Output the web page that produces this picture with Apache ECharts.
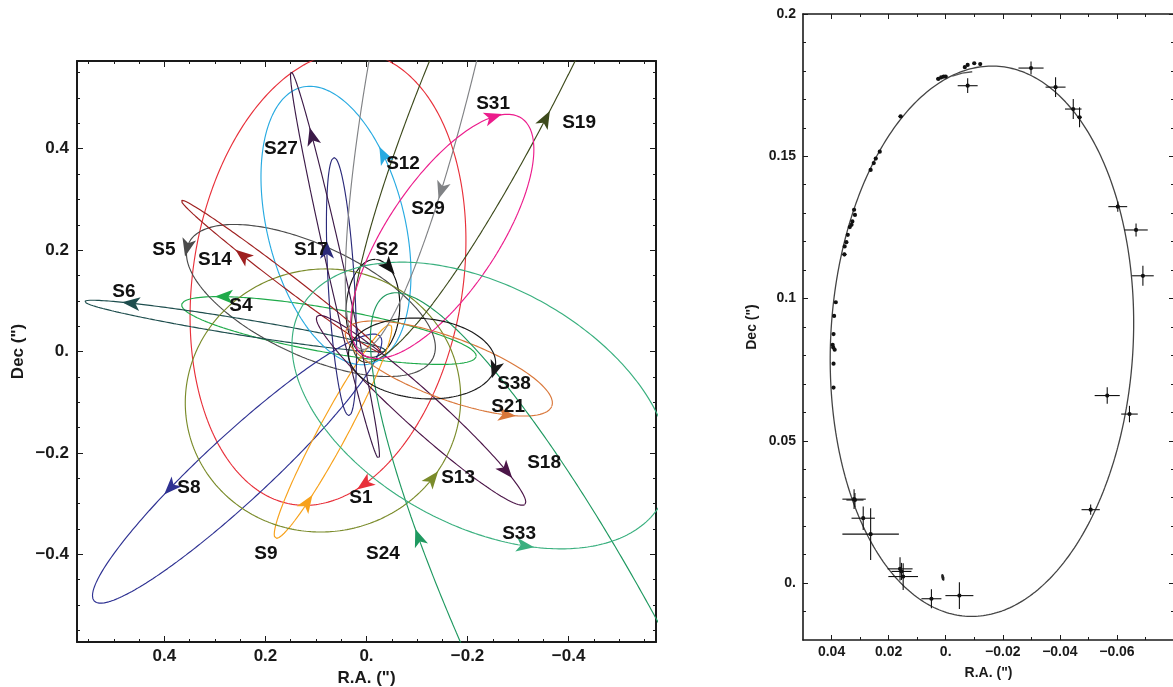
<!DOCTYPE html>
<html><head><meta charset="utf-8">
<script src="https://cdn.jsdelivr.net/npm/echarts@6/dist/echarts.min.js"></script>
<style>html,body{margin:0;padding:0;background:#fff}#c{width:1173px;height:687px}</style>
</head><body><div id="c"></div>
<script>
// ---------------- DATA (left panel: projected S-star orbits, arcsec) ----------------
const stars     = ['S1','S2','S4','S5','S6','S8','S9','S12','S13','S14','S17','S18','S19','S21','S24','S27','S29','S31','S33','S38'];
// ellipse centre (R.A., Dec), semi-axes and tilt of the major axis (deg, on the sky picture)
const orbitRA   = [0.0762,-0.0127,0.0743,0.110,0.260,0.256,0.0663,0.0604,0.0861,0.169,0.0495,-0.108,-0.341,-0.163,-0.470,0.0624,-0.146,-0.150,-0.227,-0.110];
const orbitDec  = [0.144,0.085,0.0414,0.1006,0.0503,-0.231,-0.158,0.2485,-0.0966,0.148,0.128,-0.116,0.733,-0.0335,-0.734,0.170,0.739,0.227,-0.1065,-0.0138];
const orbitA    = [0.451,0.0968,0.296,0.267,0.302,0.385,0.239,0.281,0.273,0.248,0.255,0.277,0.830,0.217,0.949,0.391,0.751,0.281,0.405,0.146];
const orbitB    = [0.267,0.053,0.0435,0.109,0.016,0.065,0.028,0.136,0.259,0.014,0.026,0.036,0.134,0.061,0.188,0.016,0.107,0.109,0.237,0.079];
const orbitTilt = [81,87,-10,-25,-9.2,42.7,61.6,104,10,-37.2,93.3,-42,65,-20,-63,102.8,78,56,-28,-5];
// direction arrows: approximate position and heading (deg)
const arrowRA   = [0.0149,-0.0485,0.2822,0.3554,0.4663,0.3931,0.1139,-0.0228,-0.1287,0.2485,0.0663,-0.3069,-0.3594,-0.2762,-0.0842,0.1188,-0.1663,-0.2525,-0.3129,-0.2525];
const arrowDec  = [-0.2465,0.1696,0.1262,0.2051,0.0947,-0.2643,-0.2998,0.3826,-0.2485,0.1854,0.2012,-0.2110,0.4556,-0.1400,-0.3728,0.4221,0.3116,0.4596,-0.3925,-0.0355];
const arrowHead = [200,270,180,235,180,225,60,110,45,140,95,290,65,0,110,100,260,0,0,270];
// star name labels
const labelRA   = [0.0109,-0.0406,0.2485,0.401,0.480,0.3515,0.199,-0.0723,-0.1812,0.300,0.1099,-0.3515,-0.4208,-0.2802,-0.0327,0.1693,-0.1218,-0.2505,-0.302,-0.292];
const labelDec  = [-0.288,0.2012,0.0907,0.2012,0.1183,-0.2682,-0.3984,0.3708,-0.2485,0.1815,0.2012,-0.2189,0.4517,-0.1085,-0.3984,0.4004,0.2821,0.4892,-0.359,-0.0631];

// ---------------- DATA (right panel: S2 astrometry) ----------------
const obsRA    = [-0.0067,-0.0077,-0.0100,-0.0121,0.0026,0.0016,0.0007,0.0000,-0.0077,0.0158,0.0231,0.0245,0.0252,0.0263,0.0321,0.0318,0.0327,0.0330,0.0336,0.0343,0.0348,0.0354,0.0355,0.0385,0.0391,0.0393,0.0396,0.0394,0.0389,0.0393,0.0393,-0.0299,-0.0385,-0.0447,-0.0469,-0.0603,-0.0667,-0.0691,-0.0566,-0.0644,0.0321,0.0318,0.0289,0.0263,0.0160,0.0155,0.0149,0.0050,-0.0048,-0.0508];
const obsDec   = [0.1813,0.1821,0.1827,0.1824,0.1772,0.1777,0.1780,0.1780,0.1748,0.1640,0.1516,0.1492,0.1476,0.1452,0.1312,0.1294,0.1271,0.1259,0.1251,0.1224,0.1198,0.1183,0.1155,0.0987,0.0939,0.0875,0.0837,0.0828,0.0820,0.0771,0.0687,0.1810,0.1743,0.1666,0.1637,0.1323,0.1241,0.1080,0.0659,0.0594,0.0295,0.0292,0.0228,0.0172,0.0050,0.0041,0.0023,-0.0055,-0.0044,0.0258];
const obsErrRA = [0,0,0,0,0.0008,0,0,0,0.0035,0.0008,0,0,0,0,0,0,0,0,0,0,0,0,0.0008,0,0.0006,0,0,0,0,0.0005,0,0.0044,0.0035,0.0029,0.0008,0.0033,0.0041,0.0038,0.0044,0.0029,0.0041,0.0030,0.0041,0.0099,0.0044,0.0035,0.0052,0.0035,0.0049,0.0032];
const obsErrDec= [0,0,0,0,0,0,0,0,0.0026,0.0005,0,0,0,0,0,0,0,0,0,0,0,0,0.0006,0,0,0,0,0,0,0,0,0.0023,0.0035,0.0035,0.0035,0.0018,0.0023,0.0035,0.0029,0.0029,0.0035,0.0025,0.0041,0.0091,0.0041,0.0030,0.0047,0.0033,0.0047,0.0018];
const fit2RA   = [-0.0023,-0.0058,-0.0093];
const fit2Dec  = [0.1782,0.1792,0.1797];
const centreRA = [0.001];
const centreDec= [0.002];

// tick values and labels
const leftMajor = [-0.4,-0.2,0,0.2,0.4];
const leftMajorLabels = ['\u22120.4','\u22120.2','0.','0.2','0.4'];
const leftMinor = [-0.55,-0.5,-0.45,-0.35,-0.3,-0.25,-0.15,-0.1,-0.05,0.05,0.1,0.15,0.25,0.3,0.35,0.45,0.5,0.55];
const rxMajor = [-0.06,-0.04,-0.02,0,0.02,0.04];
const rxMajorLabels = ['\u22120.06','\u22120.04','\u22120.02','0.','0.02','0.04'];
const rxMinor = [-0.07,-0.05,-0.03,-0.01,0.01,0.03];
const ryMajor = [0,0.05,0.1,0.15,0.2];
const ryMajorLabels = ['0.','0.05','0.1','0.15','0.2'];
const ryMinor = [-0.01,0.01,0.02,0.03,0.04,0.06,0.07,0.08,0.09,0.11,0.12,0.13,0.14,0.16,0.17,0.18,0.19];

// ---------------- styles ----------------
const colors = {S1:'#e8303a',S2:'#111111',S4:'#1faa4a',S5:'#4a4a4a',S6:'#1d4d4d',S8:'#2e3192',S9:'#f7a11a',S12:'#27aae1',S13:'#7a8b2a',S14:'#9e1f1f',S17:'#2b2a7a',S18:'#4b1548',S19:'#3d4a1c',S21:'#d9773a',S24:'#1f9960',S27:'#3c1a48',S29:'#808285',S31:'#ec1c8c',S33:'#3ab07f',S38:'#1a1a1a'};
const FONT = '"Liberation Sans", Arial, Helvetica, sans-serif';
const INK = '#1a1a1a';

function orbit(i){return {ra:orbitRA[i],dec:orbitDec[i],a:orbitA[i],b:orbitB[i],tilt:orbitTilt[i]};}
function ptAt(o,t){
  const th=o.tilt*Math.PI/180, u=o.a*Math.cos(t), v=o.b*Math.sin(t);
  const vx=u*Math.cos(th)-v*Math.sin(th), vy=u*Math.sin(th)+v*Math.cos(th);
  return [o.ra-vx, o.dec+vy];
}
function orbitPoints(o,n){const p=[];for(let k=0;k<=n;k++)p.push(ptAt(o,2*Math.PI*k/n));return p;}
function arrowPose(i){
  const o=orbit(i); let best=1e9,bt=0;
  for(let k=0;k<2880;k++){const t=2*Math.PI*k/2880;const p=ptAt(o,t);const d=(p[0]-arrowRA[i])**2+(p[1]-arrowDec[i])**2;if(d<best){best=d;bt=t;}}
  const th=o.tilt*Math.PI/180, du=-o.a*Math.sin(bt), dv=o.b*Math.cos(bt);
  const vx=du*Math.cos(th)-dv*Math.sin(th), vy=du*Math.sin(th)+dv*Math.cos(th);
  let ang=Math.atan2(vy,vx)*180/Math.PI;
  let diff=((ang-arrowHead[i])%360+540)%360-180;
  if(Math.abs(diff)>90) ang+=180;
  return {value:ptAt(o,bt),symbolRotate:ang,itemStyle:{color:colors[stars[i]],opacity:1}};
}
function lab(major,labels){return v=>{const k=major.findIndex(m=>Math.abs(m-v)<1e-9);return k<0?'':labels[k];};}

function axesFor(dim,grid,min,max,inverse,major,labels,minor,cfg){
  const sides = dim==='x'?['bottom','top']:['left','right'];
  const base={gridIndex:grid,type:'value',min:min,max:max,inverse:inverse,splitLine:{show:false},silent:true};
  const line={show:true,onZero:false,lineStyle:{color:INK,width:cfg.lw}};
  return [
    Object.assign({},base,{position:sides[0],axisLine:line,
      axisTick:{show:true,inside:true,length:cfg.maj,customValues:major,lineStyle:{color:INK,width:1}},
      axisLabel:{show:true,customValues:major,formatter:lab(major,labels),margin:cfg.margin,color:INK,fontSize:cfg.fs,fontWeight:'bold',fontFamily:FONT},
      name:cfg.name,nameLocation:'middle',nameGap:cfg.nameGap,nameTextStyle:{color:INK,fontSize:cfg.fs,fontWeight:'bold',fontFamily:FONT}}),
    Object.assign({},base,{position:sides[0],axisLine:{show:false,onZero:false},
      axisTick:{show:true,inside:true,length:cfg.min,customValues:minor,lineStyle:{color:INK,width:1}},axisLabel:{show:false}}),
    Object.assign({},base,{position:sides[1],axisLine:line,
      axisTick:{show:true,inside:true,length:cfg.maj,customValues:major,lineStyle:{color:INK,width:1}},axisLabel:{show:false}}),
    Object.assign({},base,{position:sides[1],axisLine:{show:false,onZero:false},
      axisTick:{show:true,inside:true,length:cfg.min,customValues:minor,lineStyle:{color:INK,width:1}},axisLabel:{show:false}})
  ];
}

const L=0.573;
const xAxes=[].concat(
  axesFor('x',0,-L,L,true,leftMajor,leftMajorLabels,leftMinor,{lw:2,maj:6,min:3,margin:6,fs:17,name:'R.A. (")',nameGap:21}),
  axesFor('x',1,-0.08,0.05,true,rxMajor,rxMajorLabels,rxMinor,{lw:1.6,maj:5,min:3,margin:5,fs:14,name:'R.A. (")',nameGap:26})
);
const yAxes=[].concat(
  axesFor('y',0,-L,L,false,leftMajor,leftMajorLabels,leftMinor,{lw:2,maj:6,min:3,margin:8,fs:17,name:'Dec (")',nameGap:50}),
  axesFor('y',1,-0.02,0.2,false,ryMajor,ryMajorLabels,ryMinor,{lw:1.6,maj:5,min:3,margin:7,fs:14,name:'Dec (")',nameGap:44})
);

const series=[];
stars.forEach((s,i)=>{
  series.push({type:'line',name:s,xAxisIndex:0,yAxisIndex:0,data:orbitPoints(orbit(i),720),showSymbol:false,symbol:'none',
    clip:true,lineStyle:{color:colors[s],width:1.15,opacity:1},silent:true,z:2});
});
series.push({type:'scatter',xAxisIndex:0,yAxisIndex:0,symbol:'path://M0,0 L16,6 L0,12 L4,6 Z',symbolSize:[18,14],
  itemStyle:{opacity:1},data:stars.map((s,i)=>arrowPose(i)),silent:true,z:4});
series.push({type:'scatter',xAxisIndex:0,yAxisIndex:0,symbol:'circle',symbolSize:1,itemStyle:{color:'#fff',opacity:0},
  data:stars.map((s,i)=>({name:s,value:[labelRA[i],labelDec[i]]})),silent:true,z:5,
  label:{show:true,position:'inside',formatter:p=>p.name,color:'#111',opacity:1,fontSize:19,fontWeight:'bold',fontFamily:FONT}});

// right panel
const s2 = orbit(stars.indexOf('S2'));
series.push({type:'line',xAxisIndex:4,yAxisIndex:4,data:orbitPoints(s2,720),showSymbol:false,symbol:'none',
  lineStyle:{color:'#444',width:1.3},silent:true,z:2});
series.push({type:'line',xAxisIndex:4,yAxisIndex:4,data:fit2RA.map((r,i)=>[r,fit2Dec[i]]),showSymbol:false,symbol:'none',
  lineStyle:{color:'#555',width:1.3},silent:true,z:2});
series.push({type:'scatter',xAxisIndex:4,yAxisIndex:4,symbol:'circle',symbolSize:[3,7],symbolRotate:10,itemStyle:{color:'#222',opacity:1},
  data:centreRA.map((r,i)=>[r,centreDec[i]]),silent:true,z:3});
series.push({type:'custom',xAxisIndex:4,yAxisIndex:4,silent:true,z:4,
  data:obsRA.map((r,i)=>[r,obsDec[i],obsErrRA[i],obsErrDec[i]]),
  encode:{x:0,y:1},
  renderItem:function(params,api){
    const x=api.value(0),y=api.value(1),ex=api.value(2),ey=api.value(3);
    const c=api.coord([x,y]); const ch=[];
    const st={stroke:'#111',lineWidth:1.1};
    if(ex>0){const a=api.coord([x+ex,y]),b=api.coord([x-ex,y]);ch.push({type:'line',shape:{x1:a[0],y1:a[1],x2:b[0],y2:b[1]},style:st});}
    if(ey>0){const a=api.coord([x,y+ey]),b=api.coord([x,y-ey]);ch.push({type:'line',shape:{x1:a[0],y1:a[1],x2:b[0],y2:b[1]},style:st});}
    ch.push({type:'circle',shape:{cx:c[0],cy:c[1],r:2.1},style:{fill:'#111'}});
    return {type:'group',children:ch};
  }});

const chart=echarts.init(document.getElementById('c'),null,{renderer:'canvas'});
chart.setOption({
  animation:false,
  backgroundColor:'#fff',
  grid:[{left:77,top:61,width:579,height:581,containLabel:false,outerBoundsMode:'none'},
        {left:803,top:14,width:371,height:626,containLabel:false,outerBoundsMode:'none'}],
  xAxis:xAxes,
  yAxis:yAxes,
  series:series
});
</script></body></html>
